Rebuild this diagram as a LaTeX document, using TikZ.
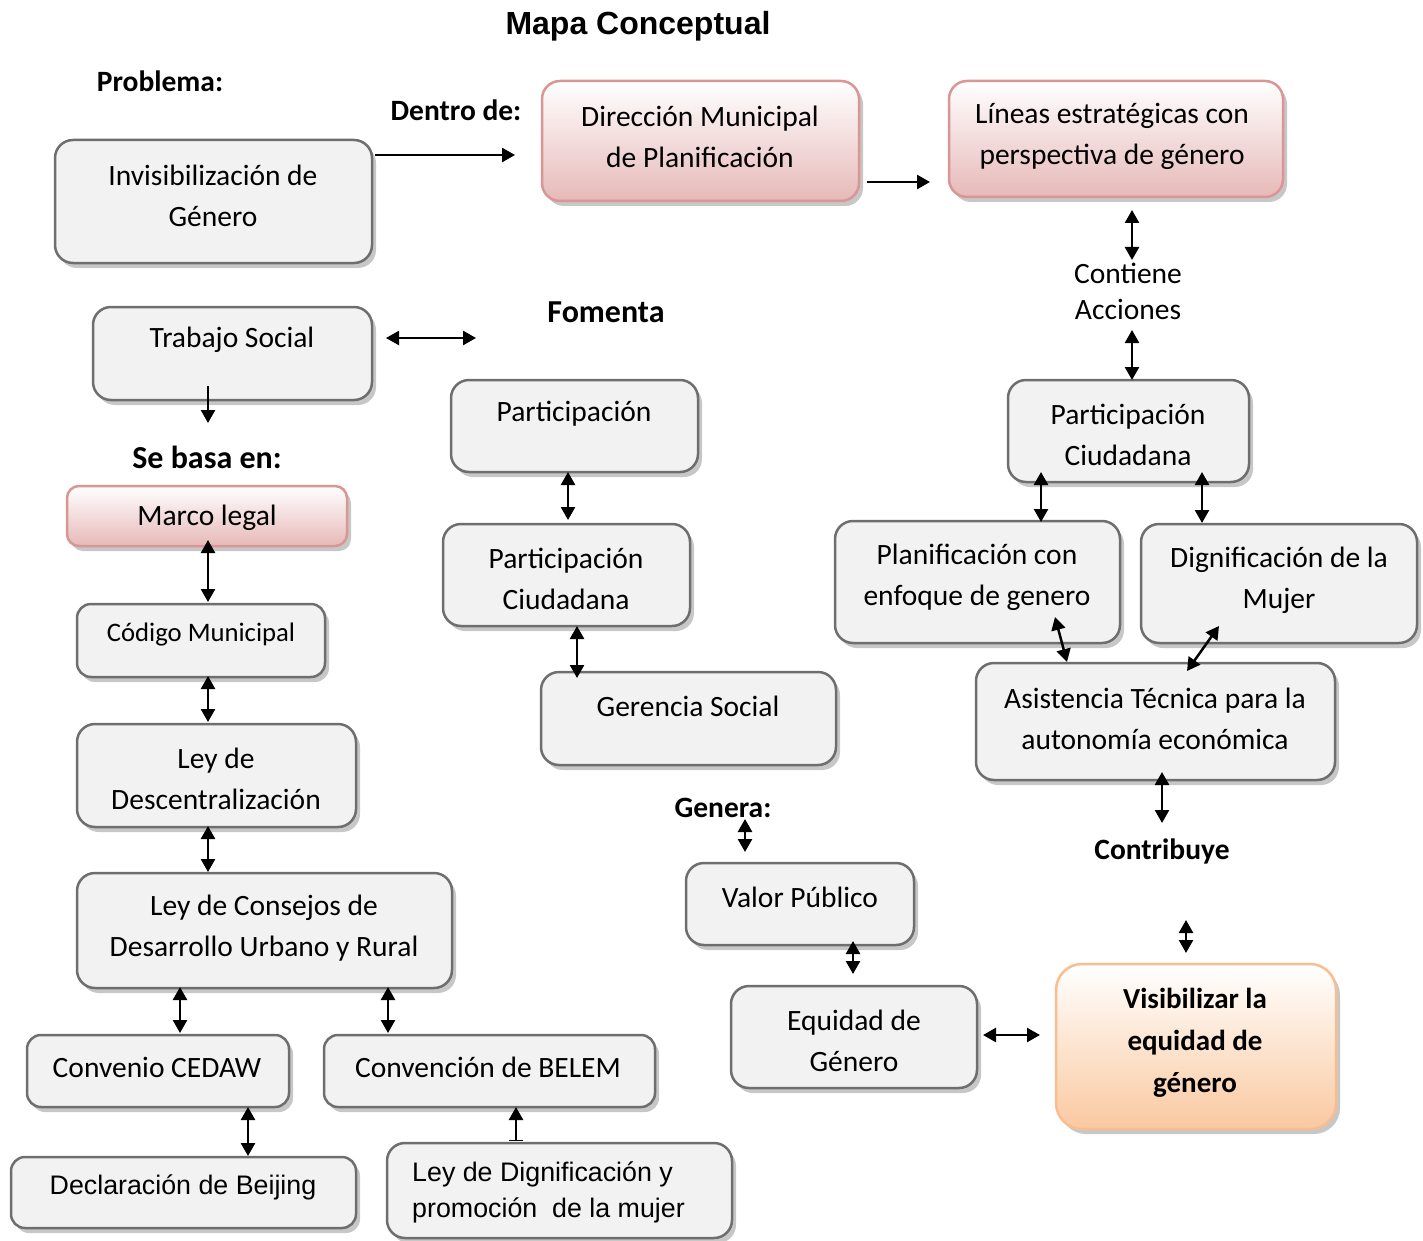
\documentclass[tikz,border=0pt]{standalone}
\usepackage{fontspec}
\setmainfont{Carlito}
\newfontfamily\arialf{Liberation Sans}
\usetikzlibrary{shadows,arrows.meta}
\definecolor{boxfill}{HTML}{F2F2F2}
\definecolor{boxdraw}{HTML}{6E6E6E}
\definecolor{pinkfill}{HTML}{E6B9B8}
\definecolor{pinkdraw}{HTML}{D99694}
\definecolor{orfill}{HTML}{FAC9A0}
\definecolor{ordraw}{HTML}{F9BE8F}
\tikzset{
  x=1pt, y=-1pt,
  box/.style={draw=boxdraw, line width=2.5pt, fill=boxfill, rounded corners=18pt, inner sep=0pt,
    drop shadow={shadow xshift=4pt, shadow yshift=-5pt, fill=black, opacity=0.22}},
  pinkbox/.style={box, draw=pinkdraw, top color=white, bottom color=pinkfill},
  orbox/.style={box, draw=ordraw, top color=white, bottom color=orfill, rounded corners=26pt},
  txt/.style={font=\fontsize{29.5}{41}\selectfont, align=center, inner sep=0pt},
  atxt/.style={font=\arialf\fontsize{26.8}{36}\selectfont, inner sep=0pt},
  lbl/.style={font=\bfseries\fontsize{29.5}{41}\selectfont, inner sep=0pt},
  dbl/.style={{Triangle[length=13pt,width=14pt]}-{Triangle[length=13pt,width=14pt]}, line width=2.5pt},
  arr/.style={-{Triangle[length=13pt,width=14pt]}, line width=2.5pt},
}
\begin{document}
\begin{tikzpicture}
\useasboundingbox (0,0) rectangle (1423,1241);
% ---------- boxes ----------
\node[box, minimum width=317pt, minimum height=123pt] (inv) at (213.5,201.5) {};
\node[pinkbox, minimum width=317pt, minimum height=120pt] (dir) at (700.5,141) {};
\node[pinkbox, minimum width=334pt, minimum height=116pt] (lin) at (1116,139) {};
\node[box, minimum width=279pt, minimum height=93pt] (trab) at (232.5,353.5) {};
\node[pinkbox, rounded corners=12pt, minimum width=280pt, minimum height=60pt] (marco) at (207,516) {};
\node[box, rounded corners=14pt, minimum width=248pt, minimum height=73pt] (cod) at (201,640.5) {};
\node[box, minimum width=279pt, minimum height=103pt] (desc) at (216.5,775.5) {};
\node[box, minimum width=375pt, minimum height=115pt] (cons) at (264.5,930.5) {};
\node[box, rounded corners=14pt, minimum width=262pt, minimum height=72pt] (cedaw) at (158,1071) {};
\node[box, rounded corners=14pt, minimum width=331pt, minimum height=72pt] (belem) at (489.5,1071) {};
\node[box, rounded corners=14pt, minimum width=345pt, minimum height=71pt] (beij) at (183.5,1192.5) {};
\node[box, minimum width=345pt, minimum height=95pt] (dignl) at (559.5,1190.5) {};
\node[box, minimum width=247pt, minimum height=92pt] (part1) at (574.5,426) {};
\node[box, minimum width=247pt, minimum height=102pt] (partc1) at (566.5,575) {};
\node[box, minimum width=295pt, minimum height=93pt] (ger) at (688.5,718.5) {};
\node[box, minimum width=228pt, minimum height=82pt] (valor) at (800,904) {};
\node[box, minimum width=246pt, minimum height=102pt] (equi) at (854,1037) {};
\node[orbox, minimum width=280pt, minimum height=165pt] (vis) at (1196,1046.5) {};
\node[box, minimum width=241pt, minimum height=102pt] (partc2) at (1128.5,431) {};
\node[box, minimum width=285pt, minimum height=122pt] (plan) at (977.5,582) {};
\node[box, minimum width=276pt, minimum height=119pt] (dignm) at (1279,583.5) {};
\node[box, minimum width=359pt, minimum height=117pt] (asis) at (1155.5,721.5) {};
% ---------- box texts ----------
\node[txt] (tinv) at (213,196) {Invisibilización de\\Género};
\node[txt] (tdir) at (700,137) {Dirección Municipal\\de Planificación};
\node[txt] (tlin) at (1112,136) {Líneas estratégicas con\\perspectiva de género};
\node[txt] (ttrab) at (232,340) {Trabajo Social};
\begin{scope}
\clip (60,480) rectangle (360,531);
\node[txt] (tmarco) at (207,518) {Marco legal};
\end{scope}
\node[txt, font=\fontsize{26.7}{36}\selectfont] (tcod) at (201,635) {Código Municipal};
\node[txt] (tdesc) at (216,779) {Ley de\\Descentralización};
\node[txt] (tcons) at (264,928) {Ley de Consejos de\\Desarrollo Urbano y Rural};
\node[txt] (tcedaw) at (157,1067) {Convenio CEDAW};
\node[txt] (tbelem) at (488,1067) {Convención de BELEM};
\node[atxt] (tbeij) at (183,1187) {Declaración de Beijing};
\node[atxt, anchor=west, align=left] (tdignl) at (412,1192) {Ley de Dignificación y\\promoción\ \ de la mujer};
\node[txt] (tpart1) at (574,414) {Participación};
\node[txt] (tpartc1) at (566,579) {Participación\\Ciudadana};
\node[txt] (tger) at (688,706) {Gerencia Social};
\node[txt] (tvalor) at (800,897) {Valor Público};
\node[txt] (tequi) at (854,1041) {Equidad de\\Género};
\node[txt, font=\bfseries\fontsize{29}{42}\selectfont] (tvis) at (1195,1043) {Visibilizar la\\equidad de\\género};
\node[txt] (tpartc2) at (1128,435) {Participación\\Ciudadana};
\node[txt] (tplan) at (977,577) {Planificación con\\enfoque de genero};
\node[txt] (tdignm) at (1279,580) {Dignificación de la\\Mujer};
\node[txt] (tasis) at (1155,718.5) {Asistencia Técnica para la\\autonomía económica};
% ---------- free labels ----------
\node[font=\arialf\bfseries\fontsize{32}{38}\selectfont, inner sep=0pt] (title) at (638,26) {Mapa Conceptual};
\node[lbl] (lprob) at (160,81) {Problema:};
\node[lbl] (ldentro) at (456,110) {Dentro de:};
\node[lbl, font=\bfseries\fontsize{32}{40}\selectfont] (lfom) at (606,312) {Fomenta};
\node[lbl, font=\bfseries\fontsize{32}{40}\selectfont] (lbasa) at (207,457) {Se basa en:};
\node[lbl] (lgen) at (723,808) {Genera:};
\node[lbl] (lcontri) at (1162,851) {Contribuye};
\node[txt, font=\fontsize{29.5}{36}\selectfont] (lcont) at (1128,291) {Contiene\\Acciones};
% ---------- connector end points ----------
\coordinate (a1s) at (375,155);   \coordinate (a1e) at (515,155);
\coordinate (a2s) at (867,182);   \coordinate (a2e) at (930,182);
\coordinate (a3s) at (1132,210);  \coordinate (a3e) at (1132,260);
\coordinate (a4s) at (1132,330);  \coordinate (a4e) at (1132,380);
\coordinate (a5s) at (386,338);   \coordinate (a5e) at (476,338);
\coordinate (a6s) at (208,386);   \coordinate (a6e) at (208,423);
\coordinate (a7s) at (208,540);   \coordinate (a7e) at (208,602);
\coordinate (a8s) at (208,676);   \coordinate (a8e) at (208,722);
\coordinate (a9s) at (208,826);   \coordinate (a9e) at (208,872);
\coordinate (a10s) at (180,987);  \coordinate (a10e) at (180,1033);
\coordinate (a11s) at (388,987);  \coordinate (a11e) at (388,1033);
\coordinate (a12s) at (248,1107); \coordinate (a12e) at (248,1156);
\coordinate (a13s) at (516,1141); \coordinate (a13e) at (516,1107);
\coordinate (a14s) at (568,472);  \coordinate (a14e) at (568,520);
\coordinate (a15s) at (577,626);  \coordinate (a15e) at (577,678);
\coordinate (a16s) at (745,819);  \coordinate (a16e) at (745,852);
\coordinate (a17s) at (853,941);  \coordinate (a17e) at (853,974);
\coordinate (a18s) at (983,1035); \coordinate (a18e) at (1040,1035);
\coordinate (a19s) at (1186,920); \coordinate (a19e) at (1186,953);
\coordinate (a20s) at (1162,772); \coordinate (a20e) at (1162,823);
\coordinate (a21s) at (1041,472); \coordinate (a21e) at (1041,522);
\coordinate (a22s) at (1202,472); \coordinate (a22e) at (1202,523);
\coordinate (a23s) at (1055,617); \coordinate (a23e) at (1067,662);
\coordinate (a24s) at (1219,626); \coordinate (a24e) at (1187,671);
% ---------- connectors ----------
\draw[arr] (a1s) -- (a1e);
\draw[arr] (a2s) -- (a2e);
\draw[dbl] (a3s) -- (a3e);
\draw[dbl] (a4s) -- (a4e);
\draw[dbl] (a5s) -- (a5e);
\draw[arr] (a6s) -- (a6e);
\draw[dbl] (a7s) -- (a7e);
\draw[dbl] (a8s) -- (a8e);
\draw[dbl] (a9s) -- (a9e);
\draw[dbl] (a10s) -- (a10e);
\draw[dbl] (a11s) -- (a11e);
\draw[dbl] (a12s) -- (a12e);
\draw[{Bar[width=14pt,line width=1.5pt]}-{Triangle[length=13pt,width=14pt]}, line width=2.5pt] (a13s) -- (a13e);
\draw[dbl] (a14s) -- (a14e);
\draw[dbl] (a15s) -- (a15e);
\draw[dbl] (a16s) -- (a16e);
\draw[dbl] (a17s) -- (a17e);
\draw[dbl] (a18s) -- (a18e);
\draw[dbl] (a19s) -- (a19e);
\draw[dbl] (a20s) -- (a20e);
\draw[dbl] (a21s) -- (a21e);
\draw[dbl] (a22s) -- (a22e);
\draw[dbl] (a23s) -- (a23e);
\draw[dbl] (a24s) -- (a24e);
\end{tikzpicture}
\end{document}
